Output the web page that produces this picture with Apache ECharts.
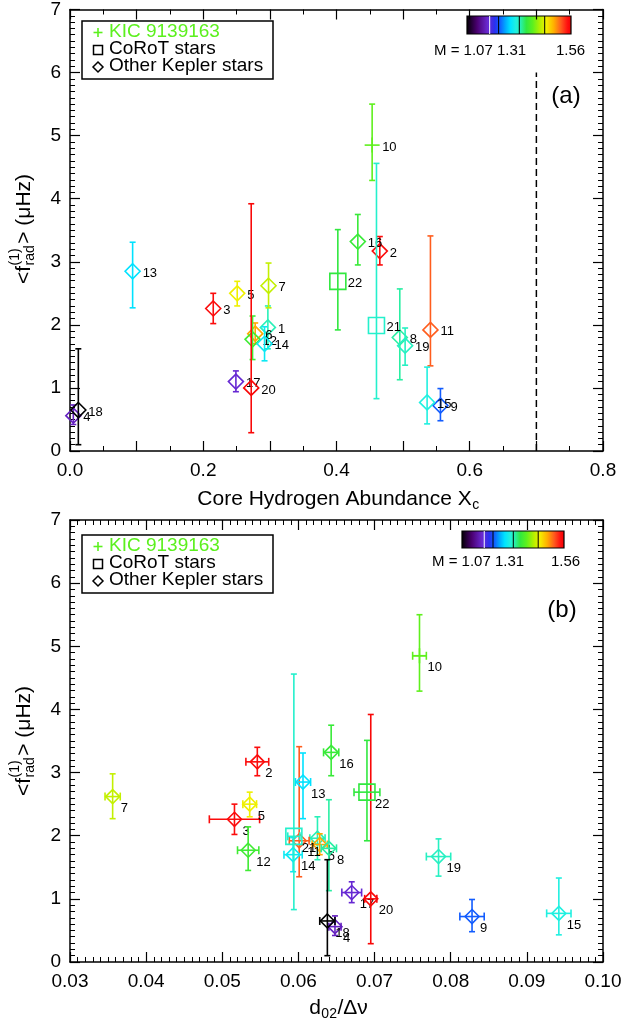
<!DOCTYPE html>
<html><head><meta charset="utf-8">
<script src="https://cdn.jsdelivr.net/npm/echarts@6/dist/echarts.min.js"></script>
<style>html,body{margin:0;padding:0;background:#fff}#c{width:634px;height:1024px}</style>
</head><body><div id="c"></div>
<script>
// ---------------- data ----------------
const starIds   = [1,2,3,4,5,6,7,8,9,10,11,12,13,14,15,16,17,18,19,20,21,22];
// 'kic' = KIC 9139163, 'corot' = CoRoT stars, 'kepler' = other Kepler stars
const starKind  = ['kepler','kepler','kepler','kepler','kepler','kepler','kepler','kepler','kepler','kic','kepler',
                   'kepler','kepler','kepler','kepler','kepler','kepler','kepler','kepler','kepler','corot','corot'];
const starMass  = [1.32,1.545,1.545,1.16,1.44,1.48,1.42,1.325,1.225,1.38,1.51,1.36,1.275,1.285,1.30,1.355,1.17,1.07,1.315,1.55,1.31,1.35];
const fRad      = [1.96,3.17,2.26,0.56,2.50,1.86,2.62,1.80,0.72,4.85,1.92,1.77,2.85,1.70,0.77,3.32,1.10,0.65,1.67,1.00,1.99,2.69];
const fRadLow   = [1.62,2.95,2.02,0.42,2.30,1.70,2.27,1.13,0.48,4.29,1.35,1.45,2.27,1.43,0.43,2.95,0.94,0.10,1.36,0.29,0.83,1.92];
const fRadHigh  = [2.30,3.40,2.50,0.73,2.69,2.03,2.98,2.57,0.99,5.50,3.41,2.14,3.31,1.97,1.33,3.75,1.27,1.62,1.95,3.92,4.56,3.51];
const coreXc    = [0.297,0.465,0.215,0.005,0.251,0.278,0.298,0.495,0.556,0.4535,0.541,0.274,0.094,0.292,0.536,0.432,0.249,0.0125,0.503,0.272,0.460,0.402];
const d02Ratio  = [0.0625,0.0546,0.0516,0.0648,0.0536,0.0628,0.0356,0.0640,0.0828,0.0759,0.0601,0.0534,0.0606,0.0593,0.0942,0.0643,0.0670,0.0638,0.0784,0.0695,0.0594,0.0690];
const d02Err    = [0.0010,0.0015,0.0033,0.0008,0.0009,0.0010,0.0010,0.0010,0.0016,0.0009,0.0013,0.0014,0.0010,0.0012,0.0016,0.0010,0.0013,0.0010,0.0016,0.0008,0.0008,0.0017];
const massMin = 1.07, massMid = 1.31, massMax = 1.56;
const xcLimit = 0.7, xcLimitTop = 6.0;
const xcTicks  = {min:0, max:0.8, step:0.1, labelStep:0.2};
const d02Ticks = {min:0.03, max:0.10, step:0.01};
const fTicks   = {min:0, max:7, step:1};
const legendItems = ['KIC 9139163','CoRoT stars','Other Kepler stars'];

// ---------------- style ----------------
const FONT = '"Liberation Sans", Arial, Helvetica, sans-serif';
const KIC_GREEN = '#5cf01e';
const cmapStops = [
 [0.00,'#000000'],[0.10,'#4a0070'],[0.20,'#6a28d0'],[0.27,'#2a30f0'],[0.32,'#1060ff'],
 [0.37,'#00a8ff'],[0.42,'#00e4ff'],[0.47,'#20f0e0'],[0.51,'#28f0b8'],[0.57,'#30e840'],
 [0.63,'#5cf01e'],[0.70,'#b4f000'],[0.76,'#f4f000'],[0.83,'#ffb000'],[0.90,'#ff5a1e'],
 [0.96,'#ff1010'],[1.00,'#f00000']];
function hex2rgb(h){return [parseInt(h.substr(1,2),16),parseInt(h.substr(3,2),16),parseInt(h.substr(5,2),16)];}
function cmap(t){
  t=Math.max(0,Math.min(1,t));
  for(let k=1;k<cmapStops.length;k++){
    if(t<=cmapStops[k][0]){
      const a=cmapStops[k-1],b=cmapStops[k];const u=(t-a[0])/(b[0]-a[0]);
      const ca=hex2rgb(a[1]),cb=hex2rgb(b[1]);
      return 'rgb('+ca.map((v,j)=>Math.round(v+(cb[j]-v)*u)).join(',')+')';
    }
  }
  return cmapStops[cmapStops.length-1][1];
}
function massColor(m){return cmap((m-massMin)/(massMax-massMin));}

const ctx2=document.createElement('canvas').getContext('2d');
function tw(t,fs){ctx2.font=fs+'px '+FONT;return ctx2.measureText(t).width;}

function ln(x1,y1,x2,y2,st){return {type:'line',shape:{x1,y1,x2,y2},style:st};}
function txt(x,y,text,fs,fill,align){
  return {type:'text',x,y,style:{text,fill:fill||'#000',fontSize:fs,fontFamily:FONT,
    align:align||'left',verticalAlign:'middle',textAlign:align||'left',textVerticalAlign:'middle'}};
}

function renderStar(panel){
  return function(params,api){
    const i=api.value(6);
    const x=api.value(0),f=api.value(1);
    const col=massColor(starMass[i]);
    const st={stroke:col,lineWidth:1.6,fill:'none'};
    const c=api.coord([x,f]);
    const lo=api.coord([x,api.value(2)]),hi=api.coord([x,api.value(3)]);
    const cap=3, ch=[];
    ch.push(ln(c[0],lo[1],c[0],hi[1],st));
    ch.push(ln(c[0]-cap,lo[1],c[0]+cap,lo[1],st));
    ch.push(ln(c[0]-cap,hi[1],c[0]+cap,hi[1],st));
    if(panel==='b'){
      const xl=api.coord([api.value(4),f]),xh=api.coord([api.value(5),f]);
      ch.push(ln(xl[0],c[1],xh[0],c[1],st));
      ch.push(ln(xl[0],c[1]-4,xl[0],c[1]+4,st));
      ch.push(ln(xh[0],c[1]-4,xh[0],c[1]+4,st));
    }
    const kind=starKind[i];
    if(kind==='kepler'){
      const h=panel==='a'?7.5:7;
      ch.push({type:'polygon',shape:{points:[[c[0],c[1]-h],[c[0]+h,c[1]],[c[0],c[1]+h],[c[0]-h,c[1]]]},style:st});
    }else if(kind==='corot'){
      const h=8;
      ch.push({type:'rect',shape:{x:c[0]-h,y:c[1]-h,width:2*h,height:2*h},style:st});
    }else{
      const h=7.5;
      ch.push(ln(c[0]-h,c[1],c[0]+h,c[1],st));
      ch.push(ln(c[0],c[1]-h,c[0],c[1]+h,st));
    }
    const dx=panel==='a'?10:8, dy=panel==='a'?2:12;
    ch.push(txt(c[0]+dx,c[1]+dy,String(starIds[i]),13,'#000'));
    return {type:'group',children:ch};
  };
}

const rowsA=starIds.map((id,i)=>[coreXc[i],fRad[i],fRadLow[i],fRadHigh[i],coreXc[i],coreXc[i],i]);
const rowsB=starIds.map((id,i)=>[d02Ratio[i],fRad[i],fRadLow[i],fRadHigh[i],d02Ratio[i]-d02Err[i],d02Ratio[i]+d02Err[i],i]);

function axisBase(gi,min,max,interval,minorSplit){
  return {gridIndex:gi,type:'value',min,max,interval,
    axisLine:{show:true,onZero:false,lineStyle:{color:'#000',width:1.5}},
    axisTick:{show:true,inside:true,length:10,lineStyle:{color:'#000',width:1.2}},
    minorTick:{show:true,splitNumber:minorSplit,length:5,lineStyle:{color:'#000',width:1}},
    splitLine:{show:false},minorSplitLine:{show:false}};
}
function labelled(base,pos,fmt,margin){
  return Object.assign({},base,{position:pos,axisLabel:{show:true,color:'#000',fontSize:19,fontFamily:FONT,margin:margin,formatter:fmt}});
}
function bare(base,pos){return Object.assign({},base,{position:pos,axisLabel:{show:false}});}

const xa=axisBase(0,xcTicks.min,xcTicks.max,xcTicks.step,2);
const xb=axisBase(1,d02Ticks.min,d02Ticks.max,d02Ticks.step,10);
const ya=axisBase(0,fTicks.min,fTicks.max,fTicks.step,10);
const yb=axisBase(1,fTicks.min,fTicks.max,fTicks.step,10);
const fmtXc=v=>{const r=v/xcTicks.labelStep;return Math.abs(r-Math.round(r))<1e-6?v.toFixed(1):'';};
const fmtD=v=>v.toFixed(2);
const fmtY=v=>String(Math.round(v));

// ---------- graphic helpers ----------
function legendGroup(x0,y0){
  const ch=[];
  ch.push({type:'rect',shape:{x:x0,y:y0,width:191,height:58},style:{fill:'#fff',stroke:'#000',lineWidth:1.5}});
  const ys=[y0+10.5,y0+28,y0+45];
  const sx=x0+16;
  ch.push(ln(sx-4.5,ys[0]+1,sx+4.5,ys[0]+1,{stroke:KIC_GREEN,lineWidth:1.6}));
  ch.push(ln(sx,ys[0]-3.5,sx,ys[0]+5.5,{stroke:KIC_GREEN,lineWidth:1.6}));
  ch.push({type:'rect',shape:{x:sx-4.5,y:ys[1]-3.5,width:9,height:9},style:{fill:'none',stroke:'#000',lineWidth:1.5}});
  ch.push({type:'polygon',shape:{points:[[sx,ys[2]-4],[sx+5,ys[2]+1],[sx,ys[2]+6],[sx-5,ys[2]+1]]},style:{fill:'none',stroke:'#000',lineWidth:1.5}});
  ch.push(txt(x0+27,ys[0],legendItems[0],19,KIC_GREEN));
  ch.push(txt(x0+27,ys[1],legendItems[1],19,'#000'));
  ch.push(txt(x0+27,ys[2],legendItems[2],19,'#000'));
  return {type:'group',children:ch,z:100};
}
function colorbarGroup(x0,y0,w,h,lx,ly,rx){
  const ch=[];
  const stops=cmapStops.map(s=>({offset:s[0],color:s[1]}));
  ch.push({type:'rect',shape:{x:x0,y:y0,width:w,height:h},style:{fill:{type:'linear',x:0,y:0,x2:1,y2:0,colorStops:stops},stroke:'#000',lineWidth:1.2}});
  [[0.218,'#fff'],[0.304,'#000'],[0.503,'#000'],[0.747,'#000']].forEach(m=>{
    ch.push(ln(x0+w*m[0],y0,x0+w*m[0],y0+h,{stroke:m[1],lineWidth:1}));
  });
  ch.push(txt(lx,ly,'M = '+massMin.toFixed(2)+' '+massMid.toFixed(2),15,'#000'));
  ch.push(txt(rx,ly,massMax.toFixed(2),15,'#000'));
  return {type:'group',children:ch,z:100};
}
function yTitle(cx,cy){
  const fs=21,fsm=14;
  const w1=tw('<f',fs), ws=Math.max(tw('(1)',fsm),tw('rad',fsm)), w3=tw('> (\u03bcHz)',fs);
  const total=w1+ws+2+w3; const x0=-total/2;
  return {type:'group',x:cx,y:cy,rotation:Math.PI/2,z:100,children:[
    txt(x0,0,'<f',fs,'#000'),
    txt(x0+w1+0.5,-9,'(1)',fsm,'#000'),
    txt(x0+w1+0.5,6,'rad',fsm,'#000'),
    txt(x0+w1+ws+2,0,'> (\u03bcHz)',fs,'#000')
  ]};
}
function subTitle(cx,cy,pre,sub,post){
  const fs=21,fsm=14;
  const w1=tw(pre,fs),w2=tw(sub,fsm),w3=post?tw(post,fs):0;
  const x0=-(w1+w2+w3)/2;
  const ch=[txt(x0,0,pre,fs,'#000'),txt(x0+w1+0.5,6,sub,fsm,'#000')];
  if(post) ch.push(txt(x0+w1+w2+1,0,post,fs,'#000'));
  return {type:'group',x:cx,y:cy,z:100,children:ch};
}

const chart=echarts.init(document.getElementById('c'),null,{renderer:'canvas'});
chart.setOption({
  animation:false,
  backgroundColor:'#fff',
  grid:[
    {left:70,top:7,width:533,height:444,containLabel:false},
    {left:70,top:520,width:533,height:442,containLabel:false}
  ],
  xAxis:[labelled(xa,'bottom',fmtXc,10),bare(xa,'top'),labelled(xb,'bottom',fmtD,10),bare(xb,'top')],
  yAxis:[labelled(ya,'left',fmtY,9),bare(ya,'right'),labelled(yb,'left',fmtY,9),bare(yb,'right')],
  series:[
    {type:'line',xAxisIndex:0,yAxisIndex:0,data:[[xcLimit,0],[xcLimit,xcLimitTop]],symbol:'none',
      lineStyle:{color:'#000',width:1.5,type:[7,4]},silent:true},
    {type:'custom',xAxisIndex:0,yAxisIndex:0,data:rowsA,encode:{x:0,y:1},renderItem:renderStar('a'),silent:true},
    {type:'custom',xAxisIndex:2,yAxisIndex:2,data:rowsB,encode:{x:0,y:1},renderItem:renderStar('b'),silent:true}
  ],
  graphic:[
    legendGroup(82,21),
    legendGroup(82,535),
    colorbarGroup(467,16,104,18,434,51,556),
    colorbarGroup(462,531,102,17,432,562,551),
    txt(566,96,'(a)',24,'#000','center'),
    txt(562,610,'(b)',24,'#000','center'),
    yTitle(24,229),
    yTitle(24,741),
    subTitle(338,499,'Core Hydrogen Abundance X','c',''),
    subTitle(338,1008,'d','02','/\u0394\u03bd')
  ]
});
</script></body></html>
